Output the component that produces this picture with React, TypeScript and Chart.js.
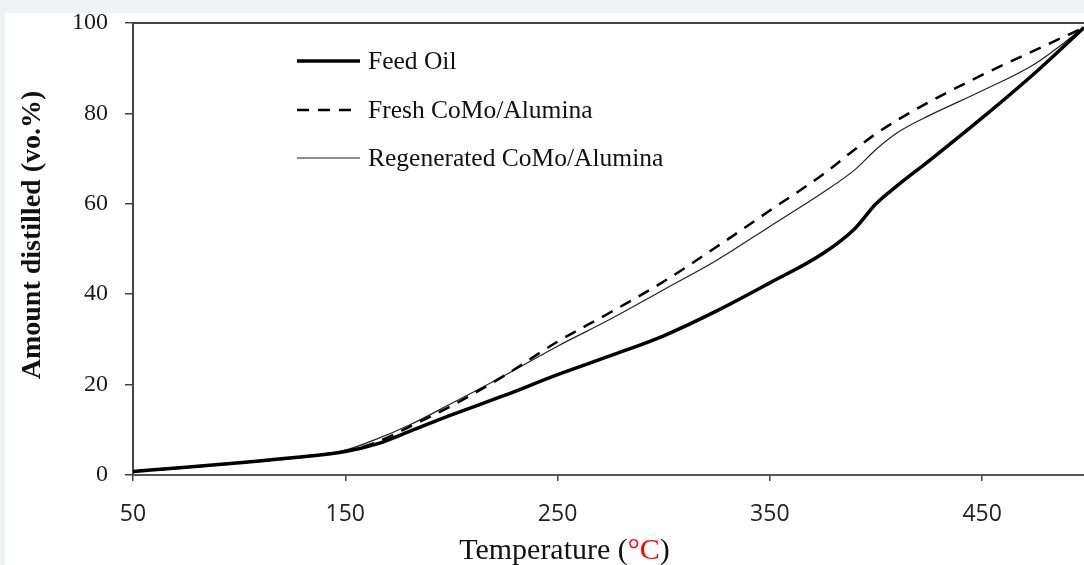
import React, { useEffect, useRef } from "react";
import { Chart, registerables } from "chart.js";

Chart.register(...registerables);

const temperatures = [50, 75, 100, 125, 150, 165, 180, 200, 225, 250, 275, 300, 325, 350, 375, 390, 400, 410, 425, 450, 475, 498];
const feedOil = [0.8, 1.7, 2.7, 3.8, 5.2, 6.9, 9.6, 13.3, 17.6, 22.2, 26.4, 30.8, 36.3, 42.5, 49, 54.5, 60, 64, 69.5, 79, 89, 99];
const freshCoMo = [0.8, 1.7, 2.7, 3.8, 5.3, 7.3, 10.6, 15.3, 22, 29.5, 36, 42.8, 50.5, 58.5, 66.5, 72, 75.5, 78.5, 82.5, 88.5, 94, 99];
const regenCoMo = [0.8, 1.7, 2.7, 3.8, 5.5, 8.0, 11.0, 15.8, 22, 28.5, 34.5, 41, 47.5, 55, 62.5, 67.5, 72, 75.7, 79.5, 85, 91, 99];
const xTicks = [50, 150, 250, 350, 450];
const seriesLabels = ["Feed Oil", "Fresh CoMo/Alumina", "Regenerated CoMo/Alumina"];

const SERIF = "'Liberation Serif', 'Times New Roman', serif";
const SANS = "'Open Sans', 'Noto Sans', sans-serif";

const decorPlugin = {
  id: "decor",
  afterDraw(chart: any) {
    const { ctx, chartArea } = chart;
    ctx.save();
    // top border
    ctx.strokeStyle = "#444";
    ctx.lineWidth = 2;
    ctx.beginPath();
    ctx.moveTo(chartArea.left, chartArea.top);
    ctx.lineTo(chartArea.right, chartArea.top);
    ctx.stroke();

    // legend
    const lx0 = 292, lx1 = 355, tx = 363;
    const ys = [48, 97, 145];
    chart.data.datasets.forEach((ds: any, i: number) => {
      ctx.strokeStyle = ds.borderColor;
      ctx.lineWidth = ds.borderWidth;
      ctx.setLineDash(ds.borderDash || []);
      ctx.beginPath();
      ctx.moveTo(lx0, ys[i]);
      ctx.lineTo(lx1, ys[i]);
      ctx.stroke();
      ctx.setLineDash([]);
      ctx.fillStyle = "#111";
      ctx.font = `25.5px ${SERIF}`;
      ctx.textBaseline = "middle";
      ctx.textAlign = "left";
      ctx.fillText(ds.label, tx, ys[i] + 1);
    });

    // x title with coloured unit
    ctx.font = `30px ${SERIF}`;
    ctx.textBaseline = "alphabetic";
    ctx.textAlign = "left";
    const parts = [
      { t: "Temperature (", c: "#111" },
      { t: "°C", c: "#ff0000" },
      { t: ")", c: "#111" },
    ];
    const total = parts.reduce((s, p) => s + ctx.measureText(p.t).width, 0);
    let x = 559.5 - total / 2;
    parts.forEach((p) => {
      ctx.fillStyle = p.c;
      ctx.fillText(p.t, x, 546);
      x += ctx.measureText(p.t).width;
    });

    // y title
    ctx.translate(35, 222);
    ctx.rotate(-Math.PI / 2);
    ctx.font = `bold 28px ${SERIF}`;
    ctx.textAlign = "center";
    ctx.textBaseline = "alphabetic";
    ctx.fillStyle = "#111";
    ctx.fillText("Amount distilled (vo.%)", 0, 0);
    ctx.restore();
  },
};

export default function App() {
  const canvasRef = useRef<HTMLCanvasElement | null>(null);

  useEffect(() => {
    if (!canvasRef.current) return;
    const mk = (vals: number[]) => temperatures.map((t, i) => ({ x: t, y: vals[i] }));
    const chart = new Chart(canvasRef.current, {
      type: "line",
      data: {
        datasets: [
          {
            label: seriesLabels[0],
            data: mk(feedOil),
            borderColor: "#000",
            borderWidth: 3.5,
            pointRadius: 0,
            cubicInterpolationMode: "monotone",
          },
          {
            label: seriesLabels[1],
            data: mk(freshCoMo),
            borderColor: "#000",
            borderWidth: 2.5,
            borderDash: [12, 9],
            pointRadius: 0,
            cubicInterpolationMode: "monotone",
          },
          {
            label: seriesLabels[2],
            data: mk(regenCoMo),
            borderColor: "#222",
            borderWidth: 1.2,
            pointRadius: 0,
            cubicInterpolationMode: "monotone",
          },
        ],
      } as any,
      options: {
        animation: false,
        responsive: false,
        devicePixelRatio: 1,
        layout: { padding: { top: 10, right: 0, bottom: 0, left: 0 } },
        plugins: { legend: { display: false }, tooltip: { enabled: false } },
        scales: {
          x: {
            type: "linear",
            min: 50,
            max: 498,
            afterBuildTicks: (scale: any) => {
              scale.ticks = xTicks.map((v) => ({ value: v }));
            },
            afterFit: (scale: any) => {
              scale.height = 90;
              scale.paddingLeft = 0;
              scale.paddingRight = 0;
            },
            grid: { drawOnChartArea: false, drawTicks: true, tickLength: 6, color: "#444", lineWidth: 1.5 },
            border: { display: true, color: "#555", width: 2 },
            ticks: {
              color: "#222",
              font: { family: SANS, size: 23 },
              padding: 20,
              maxRotation: 0,
              autoSkip: false,
            },
          },
          y: {
            type: "linear",
            min: 0,
            max: 100,
            ticks: {
              stepSize: 20,
              color: "#1a1a1a",
              font: { family: SERIF, size: 24 },
              padding: 17,
            },
            afterFit: (scale: any) => {
              scale.width = 128;
              scale.paddingTop = 0;
              scale.paddingBottom = 0;
            },
            grid: { drawOnChartArea: false, drawTicks: true, tickLength: 8, color: "#444", lineWidth: 1.5 },
            border: { display: true, color: "#444", width: 2 },
          },
        },
      } as any,
      plugins: [decorPlugin],
    });
    return () => chart.destroy();
  }, []);

  return (
    <div style={{ position: "fixed", left: 0, top: 0, width: 1084, height: 565, background: "#f1f2f4" }}>
      <div style={{ position: "absolute", left: 5, top: 13, width: 1079, height: 552, background: "#fff" }}>
        <canvas ref={canvasRef} width={1079} height={552} style={{ display: "block" }} />
      </div>
    </div>
  );
}
